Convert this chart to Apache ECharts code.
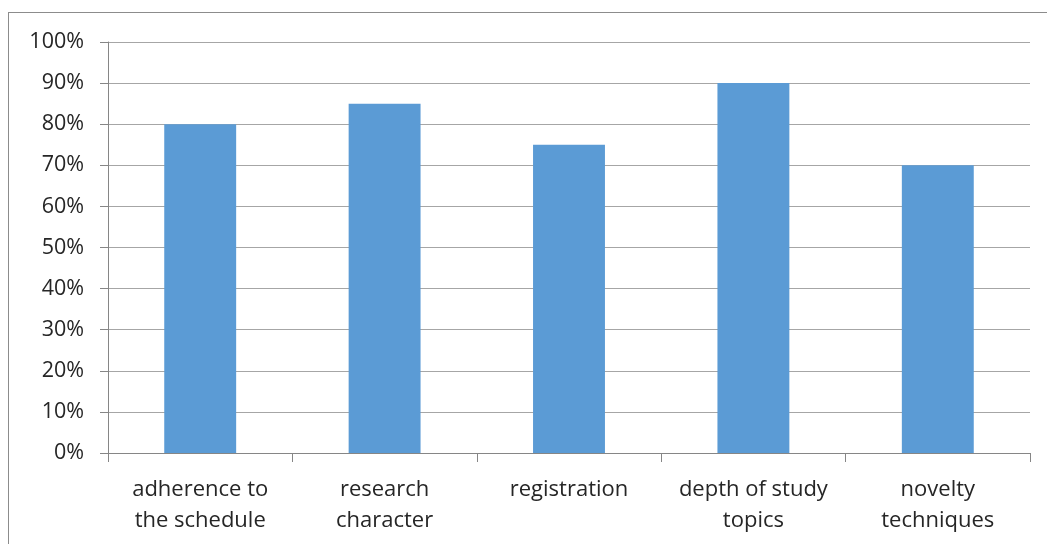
<!DOCTYPE html>
<html>
<head>
<meta charset="utf-8">
<script src="https://cdn.jsdelivr.net/npm/echarts@6/dist/echarts.min.js"></script>
<style>
  html, body { margin: 0; padding: 0; background: #fff; }
  #frame { position: absolute; left: 8px; top: 12px; width: 1100px; height: 600px; border: 1px solid #8c8c8c; box-sizing: border-box; }
  #chart { position: absolute; left: 0; top: 0; width: 1047px; height: 544px; }
</style>
</head>
<body>
<div id="frame"></div>
<div id="chart"></div>
<script>
// Assessment criteria and their share (percent)
const categories = [
  'adherence to\nthe schedule',
  'research\ncharacter',
  'registration',
  'depth of study\ntopics',
  'novelty\ntechniques'
];
const shares = [80, 85, 75, 90, 70];
const yTicks = { min: 0, max: 100, step: 10 };

const textColor = '#262626';
const font = '"Open Sans", "Noto Sans", sans-serif';

const chart = echarts.init(document.getElementById('chart'), null, { renderer: 'canvas' });
chart.setOption({
  animation: false,
  backgroundColor: 'transparent',
  grid: { left: 108, right: 17, top: 42, bottom: 91, containLabel: false },
  xAxis: {
    type: 'category',
    data: categories,
    boundaryGap: true,
    axisLine: { show: true, lineStyle: { color: '#868686', width: 1 } },
    axisTick: { show: true, length: 9, alignWithLabel: false, lineStyle: { color: '#868686' } },
    axisLabel: {
      color: textColor, fontFamily: font, fontSize: 22, lineHeight: 31,
      margin: 21, interval: 0
    },
    splitLine: { show: false }
  },
  yAxis: {
    type: 'value',
    min: yTicks.min, max: yTicks.max, interval: yTicks.step,
    axisLine: { show: true, lineStyle: { color: '#868686', width: 1 } },
    axisTick: { show: true, length: 8, lineStyle: { color: '#868686' } },
    axisLabel: {
      color: textColor, fontFamily: font, fontSize: 21.5, margin: 24,
      formatter: v => v + '%'
    },
    splitLine: { show: true, lineStyle: { color: '#a6a6a6', width: 1 } }
  },
  series: [{
    type: 'bar',
    data: shares,
    barWidth: '39%',
    itemStyle: { color: '#5b9bd5' }
  }]
});
</script>
</body>
</html>
